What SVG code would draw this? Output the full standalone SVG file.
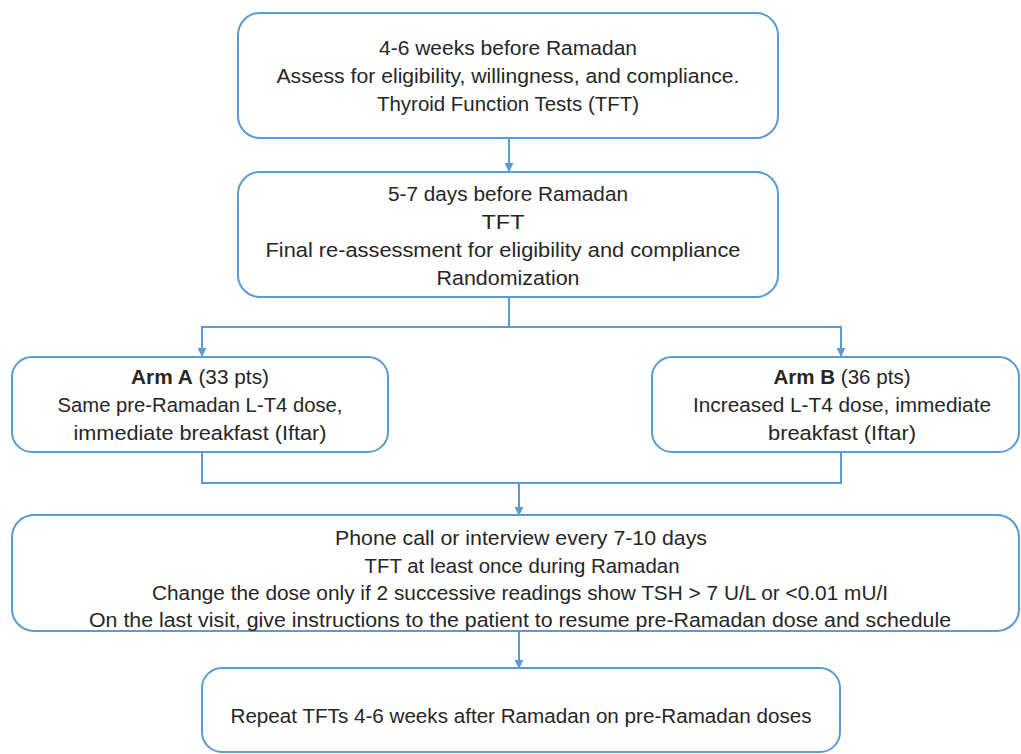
<svg xmlns="http://www.w3.org/2000/svg" width="1021" height="754" viewBox="0 0 1021 754">
<defs>
<marker id="ah" viewBox="0 0 10 10" refX="9" refY="5" markerWidth="9" markerHeight="9" markerUnits="userSpaceOnUse" orient="auto">
<path d="M0,0 L10,5 L0,10 z" fill="#5b9bd5"/>
</marker>
<style>
.box{fill:#ffffff;stroke:#5b9bd5;stroke-width:2}
.t{font-family:"Liberation Sans",Arial,sans-serif;font-size:20.5px;fill:#262626;text-anchor:middle}
.b{font-weight:bold}
.c{fill:none;stroke:#5b9bd5;stroke-width:2}
</style>
</defs>
<rect width="1021" height="754" fill="#ffffff"/>
<g id="connectors">
<line class="c" x1="509" y1="138" x2="509" y2="171" marker-end="url(#ah)"/>
<polyline class="c" points="509,297 509,327 202,327 202,356" marker-end="url(#ah)"/>
<polyline class="c" points="509,327 841,327 841,356" marker-end="url(#ah)"/>
<polyline class="c" points="202,452 202,483 841,483 841,452"/>
<line class="c" x1="519" y1="483" x2="519" y2="515" marker-end="url(#ah)"/>
<line class="c" x1="519" y1="631" x2="519" y2="668" marker-end="url(#ah)"/>
</g>
<g id="n1">
<rect class="box" x="238" y="13" width="540" height="125" rx="22"/>
<text class="t" x="508" y="55" textLength="258" lengthAdjust="spacingAndGlyphs">4-6 weeks before Ramadan</text>
<text class="t" x="508" y="83" textLength="463" lengthAdjust="spacingAndGlyphs">Assess for eligibility, willingness, and compliance.</text>
<text class="t" x="508" y="111" textLength="262" lengthAdjust="spacingAndGlyphs">Thyroid Function Tests (TFT)</text>
</g>
<g id="n2">
<rect class="box" x="238" y="172" width="540" height="125" rx="22"/>
<text class="t" x="508" y="201" textLength="240" lengthAdjust="spacingAndGlyphs">5-7 days before Ramadan</text>
<text class="t" x="503" y="229" textLength="43" lengthAdjust="spacingAndGlyphs">TFT</text>
<text class="t" x="503" y="257" textLength="475" lengthAdjust="spacingAndGlyphs">Final re-assessment for eligibility and compliance</text>
<text class="t" x="508" y="285" textLength="143" lengthAdjust="spacingAndGlyphs">Randomization</text>
</g>
<g id="nA">
<rect class="box" x="12" y="357" width="376" height="95" rx="20"/>
<text class="t" x="200" y="384" textLength="138" lengthAdjust="spacingAndGlyphs"><tspan class="b">Arm A</tspan> (33 pts)</text>
<text class="t" x="200" y="412" textLength="285" lengthAdjust="spacingAndGlyphs">Same pre-Ramadan L-T4 dose,</text>
<text class="t" x="200" y="440" textLength="253" lengthAdjust="spacingAndGlyphs">immediate breakfast (Iftar)</text>
</g>
<g id="nB">
<rect class="box" x="652" y="357" width="367" height="95" rx="20"/>
<text class="t" x="842" y="384" textLength="137" lengthAdjust="spacingAndGlyphs"><tspan class="b">Arm B</tspan> (36 pts)</text>
<text class="t" x="842" y="412" textLength="298" lengthAdjust="spacingAndGlyphs">Increased L-T4 dose, immediate</text>
<text class="t" x="842" y="440" textLength="148" lengthAdjust="spacingAndGlyphs">breakfast (Iftar)</text>
</g>
<g id="n4">
<rect class="box" x="12" y="515" width="1007" height="116" rx="22"/>
<text class="t" x="521" y="545" textLength="372" lengthAdjust="spacingAndGlyphs">Phone call or interview every 7-10 days</text>
<text class="t" x="522" y="573" textLength="315" lengthAdjust="spacingAndGlyphs">TFT at least once during Ramadan</text>
<text class="t" x="520" y="600" textLength="736" lengthAdjust="spacingAndGlyphs">Change the dose only if 2 successive readings show TSH &gt; 7 U/L or &lt;0.01 mU/I</text>
<text class="t" x="520" y="627" textLength="862" lengthAdjust="spacingAndGlyphs">On the last visit, give instructions to the patient to resume pre-Ramadan dose and schedule</text>
</g>
<g id="n5">
<rect class="box" x="202" y="668" width="638" height="84" rx="20"/>
<text class="t" x="521" y="723" textLength="581" lengthAdjust="spacingAndGlyphs">Repeat TFTs 4-6 weeks after Ramadan on pre-Ramadan doses</text>
</g>
</svg>
